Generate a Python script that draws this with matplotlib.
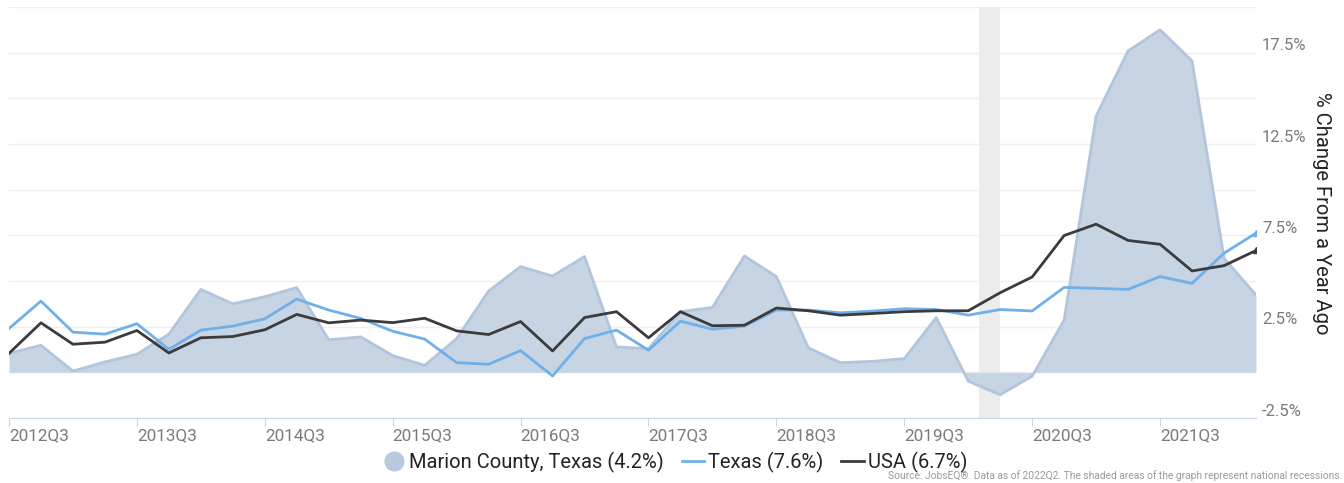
import matplotlib.pyplot as plt
import matplotlib.transforms as mtransforms
from matplotlib.lines import Line2D
import numpy as np

plt.rcParams['font.family'] = ['Roboto', 'DejaVu Sans']

# quarters 2012Q3 .. 2022Q2
quarters = []
for yr in range(2012, 2023):
    for q in range(1, 5):
        if (yr, q) >= (2012, 3) and (yr, q) <= (2022, 2):
            quarters.append(f"{yr}Q{q}")

marion = [1.04, 1.48, 0.07, 0.57, 0.99, 2.09, 4.54, 3.75, 4.14, 4.64,
          1.78, 1.94, 0.92, 0.38, 1.85, 4.45, 5.79, 5.27, 6.34, 1.39,
          1.30, 3.32, 3.55, 6.37, 5.24, 1.34, 0.53, 0.60, 0.75, 3.00,
          -0.48, -1.23, -0.21, 2.86, 14.03, 17.60, 18.75, 17.05, 6.25, 4.23]
texas = [2.40, 3.90, 2.20, 2.09, 2.66, 1.26, 2.31, 2.53, 2.93, 4.01,
         3.41, 2.95, 2.25, 1.82, 0.53, 0.44, 1.19, -0.20, 1.85, 2.31,
         1.21, 2.80, 2.36, 2.53, 3.41, 3.41, 3.26, 3.35, 3.48, 3.44,
         3.13, 3.44, 3.36, 4.65, 4.60, 4.54, 5.24, 4.87, 6.52, 7.62]
usa = [1.04, 2.71, 1.54, 1.65, 2.29, 1.06, 1.89, 1.96, 2.33, 3.17,
       2.71, 2.86, 2.72, 2.96, 2.27, 2.07, 2.78, 1.17, 3.00, 3.32,
       1.89, 3.32, 2.55, 2.58, 3.52, 3.37, 3.13, 3.22, 3.32, 3.37,
       3.37, 4.36, 5.22, 7.49, 8.11, 7.22, 7.01, 5.55, 5.84, 6.67]

recession = (30.33, 31.0)   # 2020 Feb-Apr in quarter index units
tick_labels = [q for q in quarters if q.endswith("Q3")]
y_labels = [-2.5, 2.5, 7.5, 12.5, 17.5]

x = np.arange(len(quarters))

fig = plt.figure(figsize=(13.44, 4.83), dpi=100)
ax = fig.add_axes([9/1344, 1-418/483, (1256-9)/1344, (418-7)/483])

ax.axvspan(*recession, color='#ececec', zorder=1, lw=0)
ax.fill_between(x, 0, marion, color='#c6d4e4', lw=0, zorder=2)
ax.plot(x, marion, color='#b2c5dc', lw=2, zorder=2.5)
ax.plot(x, texas, color='#70b0ea', lw=2, zorder=3, marker='^', markevery=[len(x)-1], ms=4)
ax.plot(x, usa, color='#3b3b3d', lw=2, zorder=4, marker='^', markevery=[len(x)-1], ms=4)

ax.set_xlim(0, len(x) - 1)
ax.set_ylim(-2.5, 20)
ax.set_yticks(np.arange(-2.5, 20.1, 2.5))
ax.yaxis.grid(True, color='#efefef', lw=1, zorder=0)
ax.set_axisbelow(True)
ax.tick_params(axis='y', length=0, labelleft=False, labelright=False)

ticks = [quarters.index(q) for q in tick_labels]
ax.set_xticks(ticks)
ax.set_xticklabels(tick_labels, ha='left', fontsize=12.3, color='#7a7a7a')
ax.tick_params(axis='x', length=6, color='#c8d6ea', pad=1)

for s in ['top', 'left', 'right']:
    ax.spines[s].set_visible(False)
ax.spines['bottom'].set_color('#c8d6ea')

trans = mtransforms.blended_transform_factory(ax.transAxes, ax.transData)
trans = mtransforms.offset_copy(trans, fig=fig, x=6, y=7, units='dots')
for v in y_labels:
    ax.text(1.0, v, f"{v}%", transform=trans, ha='left', va='center',
            fontsize=12, color='#7a7a7a')

fig.text(1322/1344, 1-213/483, "% Change From a Year Ago", rotation=-90,
         ha='center', va='center', fontsize=14.5, color='#222222')

handles = [
    Line2D([], [], marker='o', ls='none', ms=13.5, color='#b8c9de'),
    Line2D([], [], color='#70b0ea', lw=2),
    Line2D([], [], color='#3b3b3d', lw=2),
]
names = ["Marion County, Texas (4.2%)", "Texas (7.6%)", "USA (6.7%)"]
fig.legend(handles, names, loc='center', bbox_to_anchor=(675/1344, 1-462/483),
           ncol=3, frameon=False, fontsize=14.5, handlelength=1.1,
           handletextpad=0.2, columnspacing=0.9, labelcolor='#222222')

fig.text(0.999, 0.004, "Source: JobsEQ®. Data as of 2022Q2. The shaded areas of the graph represent national recessions.",
         ha='right', va='bottom', fontsize=7.4, color='#9a9a9a')

fig.savefig('out.png', dpi=100)
